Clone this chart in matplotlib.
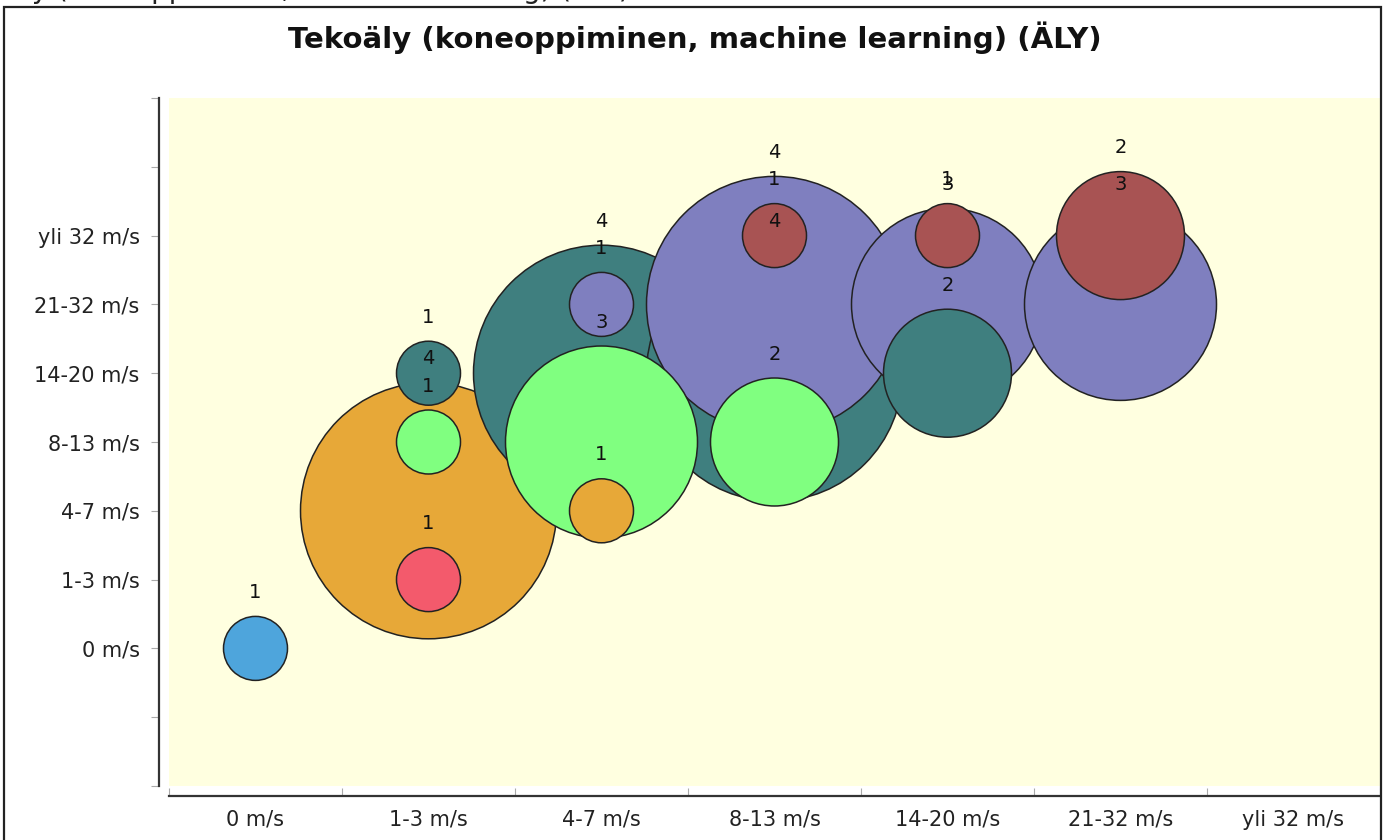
import matplotlib
matplotlib.use("Agg")
import matplotlib.pyplot as plt
from matplotlib.patches import Rectangle
import numpy as np

# ---- data ----
categories = ["0 m/s", "1-3 m/s", "4-7 m/s", "8-13 m/s", "14-20 m/s", "21-32 m/s", "yli 32 m/s"]
x_idx  = [0, 1, 1, 1, 1, 2, 2, 2, 2, 3, 3, 3, 3, 4, 4, 4, 5, 5]
y_idx  = [0, 1, 2, 3, 4, 2, 3, 4, 5, 3, 4, 5, 6, 4, 5, 6, 5, 6]
counts = [1, 1, 4, 1, 1, 1, 3, 4, 1, 2, 4, 4, 1, 2, 3, 1, 3, 2]
row_colors = ["#4ea5dc", "#f35a6c", "#e7a838", "#80ff80", "#3f7f7f", "#7f7fbf", "#a85353"]
title = "Tekoäly (koneoppiminen, machine learning) (ÄLY)"

W, H, DPI = 1383, 840, 100
px2pt = 72.0 / DPI
fig = plt.figure(figsize=(W / DPI, H / DPI), dpi=DPI)
fig.patch.set_facecolor("white")

# outer frame
fig.patches.append(Rectangle((4 / W, -0.05), (1381 - 4) / W, (840 - 7) / H + 0.05,
                             transform=fig.transFigure, fill=False,
                             edgecolor="#222222", linewidth=1.6, zorder=0))
# clipped text at very top
fig.text(630 / W, 1 + 1.5 / H, title, ha="right", va="baseline", fontsize=20, color="#222222")

ax = fig.add_axes([169 / W, (840 - 786) / H, (1380 - 169) / W, (786 - 98) / H])
ax.set_facecolor("#ffffe0")
ax.set_xlim(-0.5, 6.5)
ax.set_ylim(-2, 8)

R_PX = 32  # radius in pixels per unit of count
order = sorted(range(len(counts)), key=lambda i: -counts[i])
xs = np.array([x_idx[i] for i in order])
ys = np.array([y_idx[i] for i in order])
cs = np.array([counts[i] for i in order])
cols = [row_colors[y_idx[i]] for i in order]
sizes = (2 * R_PX * cs * px2pt) ** 2
ax.scatter(xs, ys, s=sizes, c=cols, edgecolors="#222222", linewidths=1.1, zorder=3)

for xi, yi, ci in zip(x_idx, y_idx, counts):
    ax.annotate(str(ci), (xi, yi), xytext=(0, (R_PX * ci + 24) * px2pt),
                textcoords="offset points", ha="center", va="center",
                fontsize=14, color="#111111", zorder=5)

# axes styling
for s in ["top", "right"]:
    ax.spines[s].set_visible(False)
ax.spines["left"].set_position(("outward", 10 * px2pt))
ax.spines["bottom"].set_position(("outward", 10 * px2pt))
for s in ["left", "bottom"]:
    ax.spines[s].set_color("#333333")
    ax.spines[s].set_linewidth(1.6)

ax.set_xticks(np.arange(-0.5, 7.0, 1.0))
ax.set_xticklabels([])
ax.set_xticks(np.arange(0, 7), minor=True)
ax.set_xticklabels(categories, minor=True, fontsize=15, color="#222222")
ax.tick_params(axis="x", which="minor", length=0, pad=10)
ax.tick_params(axis="x", which="major", length=6, color="#aaaaaa", direction="in")

yt = np.arange(-2, 9)
ax.set_yticks(yt)
ax.set_yticklabels([categories[v] if 0 <= v < len(categories) else "" for v in yt],
                   fontsize=15, color="#222222")
ax.tick_params(axis="y", length=6, color="#aaaaaa", pad=8)

fig.text(695 / W, 1 - 38 / H, title, ha="center", va="center",
         fontsize=21, fontweight="bold", color="#111111")

fig.savefig("out.png", dpi=DPI)
